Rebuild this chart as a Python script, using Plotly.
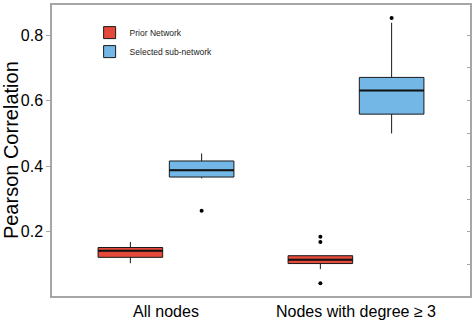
import plotly.graph_objects as go

categories = ["All nodes", "Nodes with degree \u2265 3"]
series_names = ["Prior Network", "Selected sub-network"]
series_colors = ["#E4493A", "#72B7E6"]

# box statistics per series, one value per category
prior_q1 = [0.122, 0.103]
prior_median = [0.142, 0.115]
prior_q3 = [0.152, 0.127]
prior_lower = [0.104, 0.086]
prior_upper = [0.169, 0.127]
prior_outliers = [[], [0.185, 0.169, 0.043]]

sel_q1 = [0.367, 0.559]
sel_median = [0.388, 0.631]
sel_q3 = [0.416, 0.671]
sel_lower = [0.363, 0.500]
sel_upper = [0.439, 0.838]
sel_outliers = [[0.264], [0.852]]

y_ticks = [0.2, 0.4, 0.6, 0.8]

stats = [
    (prior_q1, prior_median, prior_q3, prior_lower, prior_upper, prior_outliers),
    (sel_q1, sel_median, sel_q3, sel_lower, sel_upper, sel_outliers),
]

dodge = 0.1875
box_w = 0.34
offsets = [-dodge, dodge]

fig = go.Figure()
for s, (name, color, st) in enumerate(zip(series_names, series_colors, stats)):
    q1, med, q3, lo, hi, outs = st
    xs = [i + 1 + offsets[s] for i in range(len(categories))]
    fig.add_trace(go.Box(
        x=xs, q1=q1, median=med, q3=q3, lowerfence=lo, upperfence=hi,
        name=name, fillcolor=color, line=dict(color="#1a1a1a", width=1),
        width=box_w, whiskerwidth=0, boxpoints=False, legendgroup=name,
        hoverinfo="skip",
    ))
    # thicker median line, as in ggplot
    mx, my = [], []
    for i, m in enumerate(med):
        mx += [xs[i] - box_w / 2, xs[i] + box_w / 2, None]
        my += [m, m, None]
    fig.add_trace(go.Scatter(
        x=mx, y=my, mode="lines", line=dict(color="#111111", width=2),
        showlegend=False, legendgroup=name, hoverinfo="skip",
    ))
    ox, oy = [], []
    for i, vals in enumerate(outs):
        for v in vals:
            ox.append(xs[i])
            oy.append(v)
    fig.add_trace(go.Scatter(
        x=ox, y=oy, mode="markers", marker=dict(color="black", size=4),
        showlegend=False, legendgroup=name, hoverinfo="skip",
    ))

fig.add_trace(go.Scatter(x=[None], y=[None], yaxis="y2", showlegend=False))

axis_col = "#a6a6a6"
fig.update_layout(
    width=476, height=331,
    margin=dict(l=52, r=6, t=5, b=35, autoexpand=False),
    paper_bgcolor="white", plot_bgcolor="white",
    font=dict(family="Liberation Sans, Arial, sans-serif", color="black"),
    showlegend=True,
    legend=dict(x=0.09, y=0.955, xanchor="left", yanchor="top",
                font=dict(size=8.5, color="#222"), bgcolor="rgba(0,0,0,0)",
                itemwidth=30, tracegroupgap=0),
    xaxis=dict(range=[0.4, 2.6], tickvals=[1, 2], ticktext=categories,
               tickfont=dict(size=16), showgrid=False, zeroline=False,
               showline=True, linecolor=axis_col, linewidth=1.5, mirror=True,
               ticks="", automargin=False),
    yaxis=dict(range=[0.004, 0.892], tickvals=y_ticks,
               ticktext=[f"{v:.1f}" for v in y_ticks],
               tickfont=dict(size=16), showgrid=False, zeroline=False,
               showline=True, linecolor=axis_col, linewidth=1.5, mirror=True,
               ticks="outside", ticklen=4, tickcolor=axis_col, automargin=False),
    yaxis2=dict(overlaying="y", side="right", range=[0.004, 0.892],
                dtick=0.1, tick0=0, showticklabels=False, ticks="inside",
                ticklen=3, tickcolor=axis_col, showgrid=False, zeroline=False,
                showline=False, automargin=False),
    annotations=[dict(text="Pearson Correlation", xref="paper", yref="paper",
                      x=-0.099, y=0.5, xanchor="center", yanchor="middle",
                      textangle=-90, showarrow=False, font=dict(size=20))],
)

fig.write_html("out.html", config={"displayModeBar": False},
               post_script="document.body.style.margin='0';")
